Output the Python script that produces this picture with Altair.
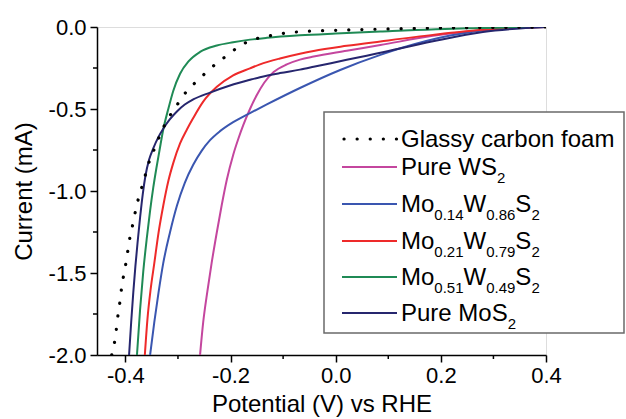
import altair as alt
import pandas as pd

# ---------------- data ----------------
series_names = ["Glassy carbon foam", "Pure WS2", "Mo0.14W0.86S2",
                "Mo0.21W0.79S2", "Mo0.51W0.49S2", "Pure MoS2"]
series_colors = ["#000000", "#c4469e", "#3a56b0", "#ee2a2a", "#1f8a55", "#26266e"]

gcf_v = [-0.426, -0.418, -0.415, -0.411, -0.408, -0.404, -0.399, -0.395, -0.391,
         -0.385, -0.380, -0.373, -0.365, -0.358, -0.349, -0.328, -0.299, -0.283,
         -0.264, -0.244, -0.224, -0.204, -0.183, -0.160, -0.134, -0.108, -0.080,
         -0.055, 0.0, 0.1, 0.2, 0.3, 0.4]
gcf_i = [-2.0, -1.865, -1.78, -1.69, -1.61, -1.526, -1.44, -1.357, -1.276,
         -1.19, -1.11, -1.02, -0.94, -0.852, -0.777, -0.615, -0.462, -0.39,
         -0.33, -0.27, -0.215, -0.168, -0.117, -0.080, -0.059, -0.043, -0.032,
         -0.026, -0.02, -0.012, -0.006, -0.003, 0.0]

ws2_v = [-0.258, -0.252, -0.244, -0.236, -0.226, -0.217, -0.207, -0.195, -0.185,
         -0.176, -0.163, -0.150, -0.136, -0.118, -0.093, -0.068, -0.042, 0.021,
         0.085, 0.185, 0.28, 0.4]
ws2_i = [-2.0, -1.80, -1.61, -1.44, -1.25, -1.09, -0.93, -0.78, -0.68,
         -0.60, -0.50, -0.415, -0.34, -0.275, -0.228, -0.199, -0.18, -0.145,
         -0.11, -0.054, -0.018, 0.0]

m14_v = [-0.353, -0.345, -0.337, -0.328, -0.315, -0.302, -0.287, -0.271, -0.255,
         -0.239, -0.220, -0.195, -0.163, -0.131, -0.068, 0.0085, 0.085, 0.123,
         0.218, 0.313, 0.4]
m14_i = [-2.0, -1.80, -1.62, -1.44, -1.25, -1.09, -0.95, -0.84, -0.755,
         -0.69, -0.635, -0.58, -0.525, -0.472, -0.372, -0.262, -0.17, -0.13,
         -0.052, -0.01, 0.0]

m21_v = [-0.363, -0.358, -0.352, -0.345, -0.337, -0.328, -0.318, -0.309, -0.296,
         -0.283, -0.271, -0.252, -0.226, -0.195, -0.163, -0.144, -0.106, -0.068,
         -0.042, 0.021, 0.085, 0.185, 0.28, 0.4]
m21_i = [-2.0, -1.78, -1.60, -1.44, -1.255, -1.09, -0.935, -0.83, -0.71,
         -0.625, -0.555, -0.455, -0.365, -0.295, -0.252, -0.228, -0.192, -0.163,
         -0.146, -0.115, -0.088, -0.048, -0.017, 0.0]

m51_v = [-0.378, -0.372, -0.366, -0.359, -0.353, -0.347, -0.341, -0.335, -0.328,
         -0.318, -0.309, -0.296, -0.280, -0.258, -0.226, -0.195, -0.163, -0.131,
         -0.068, 0.0, 0.085, 0.25, 0.4]
m51_i = [-2.0, -1.72, -1.49, -1.28, -1.12, -0.98, -0.86, -0.75, -0.625,
         -0.495, -0.39, -0.285, -0.21, -0.152, -0.113, -0.093, -0.077, -0.066,
         -0.051, -0.04, -0.028, -0.008, 0.0]

mos2_v = [-0.393, -0.389, -0.385, -0.381, -0.377, -0.372, -0.367, -0.362, -0.355,
          -0.347, -0.337, -0.328, -0.316, -0.302, -0.287, -0.271, -0.239, -0.201,
          -0.163, -0.144, -0.106, -0.068, -0.042, 0.021, 0.059, 0.085, 0.185,
          0.28, 0.4]
mos2_i = [-2.0, -1.80, -1.62, -1.46, -1.32, -1.16, -1.02, -0.91, -0.81,
          -0.74, -0.67, -0.62, -0.565, -0.515, -0.473, -0.442, -0.40, -0.357,
          -0.322, -0.306, -0.281, -0.26, -0.243, -0.20, -0.175, -0.157, -0.087,
          -0.03, 0.0]

x_ticks = [-0.4, -0.2, 0.0, 0.2, 0.4]
x_minor = [-0.3, -0.1, 0.1, 0.3]
y_ticks = [-2.0, -1.5, -1.0, -0.5, 0.0]
y_minor = [-1.75, -1.25, -0.75, -0.25]

# legend labels, split into (text, is_subscript) pieces
legend_parts = [
    [("Glassy carbon foam", False)],
    [("Pure WS", False), ("2", True)],
    [("Mo", False), ("0.14", True), ("W", False), ("0.86", True), ("S", False), ("2", True)],
    [("Mo", False), ("0.21", True), ("W", False), ("0.79", True), ("S", False), ("2", True)],
    [("Mo", False), ("0.51", True), ("W", False), ("0.49", True), ("S", False), ("2", True)],
    [("Pure MoS", False), ("2", True)],
]

# ---------------- build tables ----------------
all_series = [(gcf_v, gcf_i), (ws2_v, ws2_i), (m14_v, m14_i),
              (m21_v, m21_i), (m51_v, m51_i), (mos2_v, mos2_i)]
rows = []
for name, (vs, cs) in zip(series_names, all_series):
    for v, c in zip(vs, cs):
        rows.append({"series": name, "v": v, "i": c})
df = pd.DataFrame(rows)
df_dot = df[df.series == series_names[0]]
df_solid = df[df.series != series_names[0]]

FONT = "Liberation Sans"
W, H = 449, 328

color_scale = alt.Scale(domain=series_names, range=series_colors)
x_scale = alt.Scale(domain=[-0.454, 0.4], nice=False, zero=False)
y_scale = alt.Scale(domain=[-2.0, 0.0], nice=False, zero=False)

label_expr = "replace(format(datum.value, '.1f'), '\u2212', '-')"
common_axis = dict(grid=False, tickSize=7, tickWidth=1.5, tickColor="black",
                   domainColor="black", domainWidth=1.5,
                   labelFont=FONT, labelFontSize=22, labelColor="black",
                   titleFont=FONT, titleFontSize=24, titleFontWeight="normal",
                   titleColor="black", labelExpr=label_expr)

x_enc = alt.X("v:Q", scale=x_scale,
              axis=alt.Axis(values=x_ticks, title="Potential (V) vs RHE",
                            labelPadding=3, titlePadding=6, labelFlush=False,
                            **common_axis))
y_enc = alt.Y("i:Q", scale=y_scale,
              axis=alt.Axis(values=y_ticks, title="Current (mA)",
                            labelPadding=4, titlePadding=12, **common_axis))

solid = alt.Chart(df_solid).mark_line(strokeWidth=2, interpolate="monotone", clip=True).encode(
    x=x_enc, y=y_enc,
    color=alt.Color("series:N", scale=color_scale, legend=None))

dotted = alt.Chart(df_dot).mark_line(strokeWidth=3.2, strokeDash=[0.1, 13], strokeCap="round",
                                     interpolate="monotone", clip=True).encode(
    x=alt.X("v:Q", scale=x_scale), y=alt.Y("i:Q", scale=y_scale),
    color=alt.Color("series:N", scale=color_scale, legend=None))

xminor = alt.Chart(pd.DataFrame({"v": x_minor})).mark_rule(color="black", strokeWidth=1.5).encode(
    x=alt.X("v:Q", scale=x_scale), y=alt.value(H), y2=alt.value(H + 4))
yminor = alt.Chart(pd.DataFrame({"i": y_minor})).mark_rule(color="black", strokeWidth=1.5).encode(
    y=alt.Y("i:Q", scale=y_scale), x=alt.value(0), x2=alt.value(-4))

# ---------------- legend ----------------
one = pd.DataFrame({"k": [0]})
layers = [solid, dotted, xminor, yminor]
layers.append(alt.Chart(one).mark_rect(fill="white", stroke="#6a6a6a", strokeWidth=1.5).encode(
    x=alt.value(227), x2=alt.value(527), y=alt.value(85), y2=alt.value(306)))

row_y = [112, 140, 177, 214, 250, 286]
sw_x0, sw_x1, txt_x = 245, 300, 304
main_size, sub_size = 24, 15
widths = {"G": 778, "l": 222, "a": 556, "s": 500, "y": 500, " ": 278, "c": 500,
          "r": 333, "b": 556, "o": 556, "n": 556, "f": 278, "m": 833, "P": 667,
          "u": 556, "e": 556, "W": 944, "S": 667, "M": 833, ".": 278}


def tw(s, size):
    return sum(widths.get(ch, 556) for ch in s) / 1000.0 * size


for k, (name, col) in enumerate(zip(series_names, series_colors)):
    ry = row_y[k]
    if k == 0:
        sw = alt.Chart(one).mark_rule(color=col, strokeWidth=3.2, strokeDash=[0.1, 13],
                                      strokeCap="round").encode(
            x=alt.value(sw_x0 + 2), x2=alt.value(sw_x1), y=alt.value(ry))
    else:
        sw = alt.Chart(one).mark_rule(color=col, strokeWidth=2).encode(
            x=alt.value(sw_x0), x2=alt.value(sw_x1), y=alt.value(ry))
    layers.append(sw)
    xx = txt_x
    for text, is_sub in legend_parts[k]:
        size = sub_size if is_sub else main_size
        yy = ry + (16 if is_sub else 8)
        layers.append(alt.Chart(one).mark_text(align="left", baseline="alphabetic", font=FONT,
                                               fontSize=size, color="black").encode(
            x=alt.value(xx), y=alt.value(yy), text=alt.value(text)))
        xx += tw(text, size)

chart = alt.layer(*layers).properties(
    width=W, height=H,
    padding={"left": 97, "top": 27, "right": 80, "bottom": 64},
    autosize=alt.AutoSizeParams(type="none"),
).configure_view(stroke=None).configure(background="white")

chart.save("out.html", embed_options={"renderer": "svg", "actions": False})
